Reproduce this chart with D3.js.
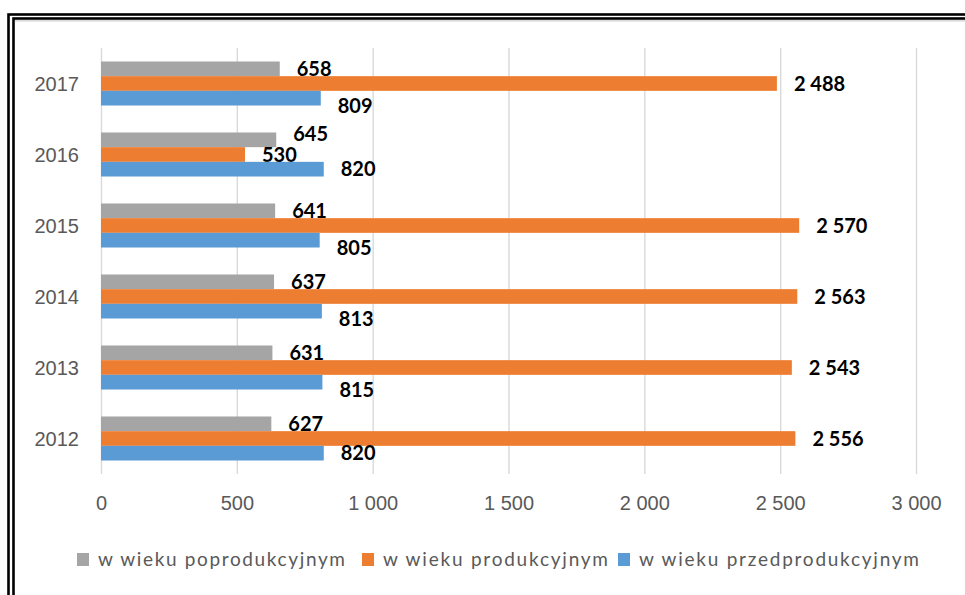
<!DOCTYPE html>
<html>
<head>
<meta charset="utf-8">
<script src="https://cdn.jsdelivr.net/npm/d3@7"></script>
<style>
    body { margin: 0; background: #fff; }
    svg { display: block; font-family: Lato, "Open Sans", sans-serif; }
</style>
</head>
<body>
<script>
// dane
var years = ['2012', '2013', '2014', '2015', '2016', '2017'];
var poprodukcyjny = [627, 631, 637, 641, 645, 658];
var produkcyjny = [2556, 2543, 2563, 2570, 530, 2488];
var przedprodukcyjny = [820, 815, 813, 805, 820, 809];
var xTicks = [0, 500, 1000, 1500, 2000, 2500, 3000];
var seriesNames = ['w wieku poprodukcyjnym', 'w wieku produkcyjnym', 'w wieku przedprodukcyjnym'];

var colors = ['#a5a5a5', '#ed7d31', '#5b9bd5'];
var width = 965, height = 595;
var plotLeft = 101, plotRight = 916, plotTop = 48, plotBottom = 474;

var svg = d3.select('body').append('svg')
    .attr('width', width)
    .attr('height', height);

// podwojna ramka
svg.append('rect')
    .attr('x', 8.5).attr('y', 14.5)
    .attr('width', 1000).attr('height', 700)
    .attr('fill', 'none').attr('stroke', '#000').attr('stroke-width', 2.6);
svg.append('rect')
    .attr('x', 13.5).attr('y', 18.5)
    .attr('width', 1000).attr('height', 700)
    .attr('fill', 'none').attr('stroke', '#000').attr('stroke-width', 2.6);
svg.append('line')
    .attr('x1', 15).attr('x2', width).attr('y1', 20.8).attr('y2', 20.8)
    .attr('stroke', '#d0d0d0').attr('stroke-width', 1.2);

var fmt = d3.formatLocale({decimal: ',', thousands: ' ', grouping: [3], currency: ['', '']}).format(',d');

var x = d3.scaleLinear().domain([0, 3000]).range([plotLeft, plotRight]);
var y = d3.scaleBand().domain(years.slice().reverse()).range([plotTop, plotBottom]);
var ySeries = d3.scaleBand().domain([0, 1, 2]).range([0, y.bandwidth()]).paddingInner(0).paddingOuter(0.92);

//siatka
var xAxis = d3.axisBottom(x).tickValues(xTicks).tickSize(plotTop - plotBottom).tickPadding(0).tickFormat(fmt);
var gx = svg.append('g')
    .attr('transform', `translate(0,${plotBottom})`)
    .call(xAxis);
gx.select('.domain').remove();
gx.selectAll('line').attr('stroke', '#d9d9d9').attr('stroke-width', 1.4);
gx.selectAll('text')
    .attr('y', 22)
    .attr('fill', '#595959')
    .style('font-size', '20px');

var yAxis = d3.axisLeft(y).tickSize(0).tickPadding(22);
var gy = svg.append('g')
    .attr('transform', `translate(${plotLeft},0)`)
    .call(yAxis);
gy.select('.domain').remove();
gy.selectAll('text')
    .attr('dy', '0.36em')
    .attr('fill', '#595959')
    .style('font-size', '20px');

var series = [poprodukcyjny, produkcyjny, przedprodukcyjny];

// przesuniecia etykiet (tak jak w oryginale)
var labelNudge = [
    {'2016': -6},
    {},
    {'2013': 8, '2014': 8, '2015': 8, '2017': 8}
];

series.forEach(function (vals, s) {
    var g = svg.append('g');
    g.selectAll('rect')
        .data(vals).enter()
        .append('rect')
        .attr('x', x(0))
        .attr('y', (v, i) => y(years[i]) + ySeries(s))
        .attr('width', v => x(v) - x(0))
        .attr('height', ySeries.bandwidth())
        .attr('fill', colors[s]);

    g.selectAll('text')
        .data(vals).enter()
        .append('text')
        .attr('x', v => x(v) + 17)
        .attr('y', (v, i) => y(years[i]) + ySeries(s) + ySeries.bandwidth() / 2 + (labelNudge[s][years[i]] || 0))
        .attr('dy', '0.36em')
        .attr('fill', '#000')
        .style('font-size', '20px')
        .style('font-weight', 'bold')
        .text(v => fmt(v));
});

// legenda
var legendX = [77, 362, 618];
var legendLen = [247, 225, 280];
var legend = svg.append('g').attr('transform', 'translate(0,559)');
seriesNames.forEach(function (name, s) {
    legend.append('rect')
        .attr('x', legendX[s]).attr('y', -6)
        .attr('width', 12).attr('height', 13)
        .attr('fill', colors[s]);
    legend.append('text')
        .attr('x', legendX[s] + 21)
        .attr('dy', '0.35em')
        .attr('fill', '#595959')
        .attr('textLength', legendLen[s])
        .attr('lengthAdjust', 'spacing')
        .style('font-size', '19px')
        .text(name);
});
</script>
</body>
</html>
